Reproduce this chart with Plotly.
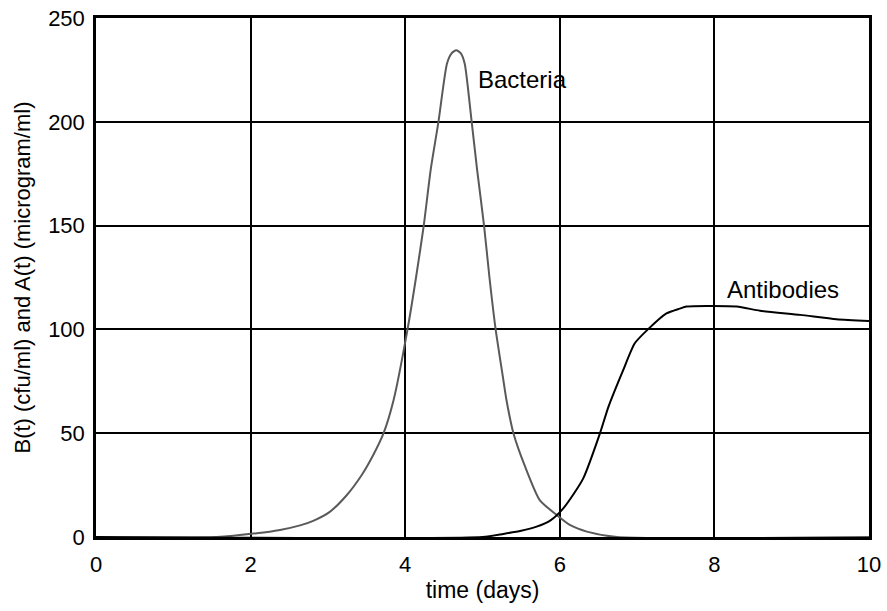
import plotly.graph_objects as go

# Bacteria B(t) (cfu/ml)
t_bac = [0, 1.56, 2.08, 2.38, 2.64, 2.81, 3.02, 3.24, 3.44, 3.58, 3.72, 3.85, 4.03, 4.14,
         4.24, 4.33, 4.43, 4.54, 4.60, 4.66, 4.72, 4.77, 4.86, 4.93, 5.02, 5.09, 5.17, 5.27, 5.31,
         5.40, 5.55, 5.74, 5.96, 6.13, 6.35, 6.74, 10]
bac = [0, 0, 1.8, 3.4, 5.6, 7.8, 12, 20, 30, 39, 50, 66, 100, 125,
       150, 177, 200, 228, 233, 234.5, 233, 228, 200, 177, 150, 125, 100, 75.6, 66,
       50, 34, 17.8, 10.6, 5.8, 2.6, 0, 0]

# Antibodies A(t) (microgram/ml)
t_ab = [0, 5.0, 5.27, 5.50, 5.70, 5.88, 6.05, 6.3, 6.52, 6.63, 6.82, 6.97, 7.14, 7.38, 7.55, 7.64,
        7.9, 8.29, 8.59, 9.11, 9.58, 10]
ab = [0, 0, 1.5, 3.0, 5.0, 8.0, 14, 28, 50, 62.8, 80.4, 93.3, 100, 107.7, 110, 111,
      111.3, 111, 109, 107, 104.9, 104]

x_ticks = [0, 2, 4, 6, 8, 10]
y_ticks = [0, 50, 100, 150, 200, 250]

FONT = "Liberation Sans, Arial, sans-serif"

fig = go.Figure()
fig.add_trace(go.Scatter(x=t_bac, y=bac, mode="lines",
                         line=dict(color="#5a5a5a", width=2, shape="spline", smoothing=0.6),
                         showlegend=False))
fig.add_trace(go.Scatter(x=t_ab, y=ab, mode="lines",
                         line=dict(color="#000000", width=2, shape="spline", smoothing=0.6),
                         showlegend=False))

fig.add_annotation(x=4.91, y=220.5, text="Bacteria", showarrow=False,
                   xanchor="left", yanchor="middle",
                   font=dict(family=FONT, size=24, color="black"))
fig.add_annotation(x=8.14, y=119, text="Antibodies", showarrow=False,
                   xanchor="left", yanchor="middle",
                   font=dict(family=FONT, size=24, color="black"))

fig.update_layout(
    width=887, height=611, autosize=False,
    margin=dict(l=96, r=18, t=18, b=74, pad=0, autoexpand=False),
    paper_bgcolor="white", plot_bgcolor="white",
    font=dict(family=FONT, color="black"),
)
fig.update_xaxes(
    range=[0, 10], tickvals=x_ticks, ticktext=[str(v) for v in x_ticks],
    showgrid=True, gridcolor="black", gridwidth=2,
    showline=True, linecolor="black", linewidth=2.5, mirror=True,
    zeroline=False, ticks="", tickfont=dict(size=22, family=FONT),
    ticklabelstandoff=6, automargin=False,
    title=dict(text="time (days)", font=dict(size=23, family=FONT), standoff=6),
)
fig.update_yaxes(
    range=[0, 250], tickvals=y_ticks, ticktext=[str(v) for v in y_ticks],
    showgrid=True, gridcolor="black", gridwidth=2,
    showline=True, linecolor="black", linewidth=2.5, mirror=True,
    zeroline=False, ticks="", tickfont=dict(size=22, family=FONT),
    ticklabelstandoff=4, automargin=False,
    title=dict(text="B(t) (cfu/ml) and A(t) (microgram/ml)",
               font=dict(size=22, family=FONT), standoff=12),
)

fig.write_html("out.html")
